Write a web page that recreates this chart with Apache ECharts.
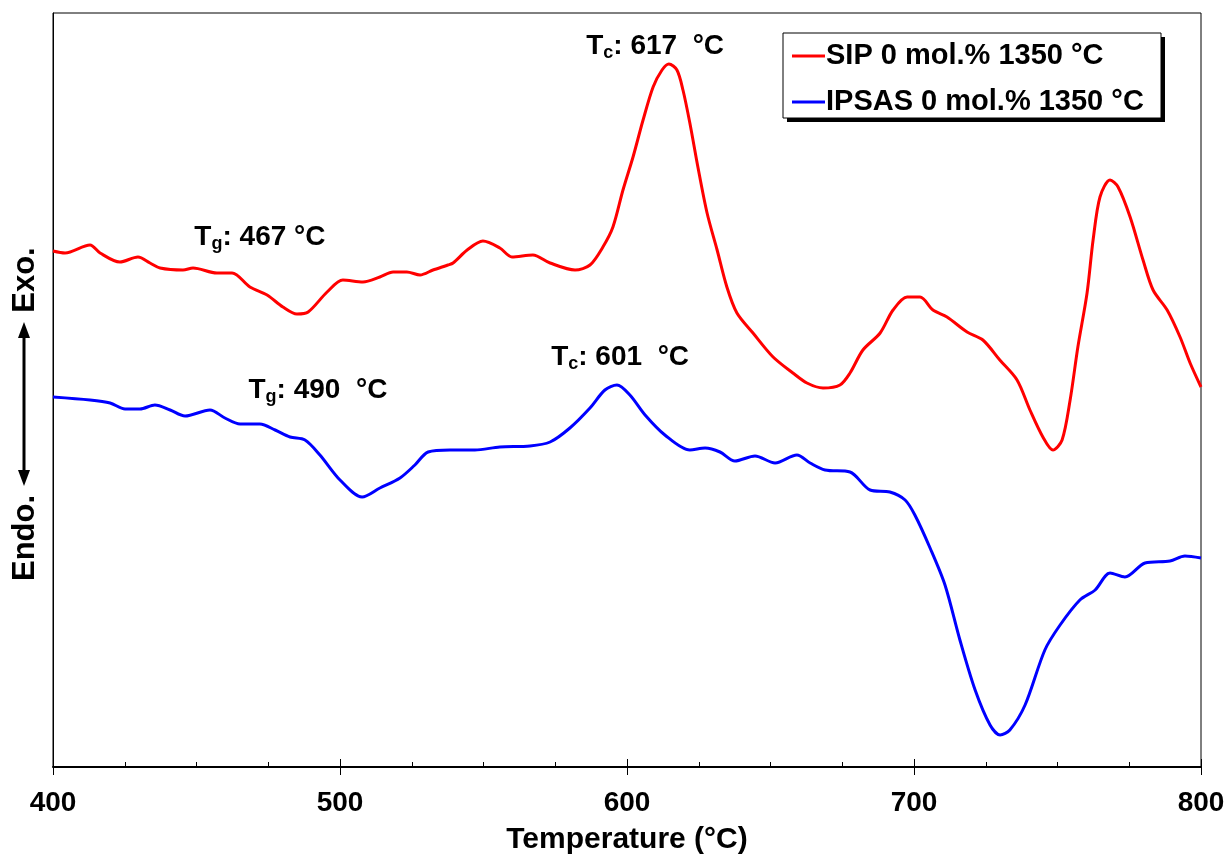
<!DOCTYPE html>
<html>
<head>
<meta charset="utf-8">
<script src="https://cdn.jsdelivr.net/npm/echarts@6/dist/echarts.min.js"></script>
<style>
  html, body { margin: 0; padding: 0; background: #fff; }
  #chart { width: 1226px; height: 854px; }
</style>
</head>
<body>
<div id="chart"></div>
<script>
// temperature (°C) and DSC signal (arbitrary units)
const sipTemp = [400, 404.2, 412.9, 416.4, 423.3, 429.6, 433.8, 437.3, 445.3, 448.8, 457.1, 462.4, 468.6, 474.6, 480.1, 485.0, 488.9, 495.5, 501.0, 508.0, 513.9, 518.5, 523.3, 527.9, 532.4, 537.6, 539.4, 544.3, 549.8, 555.7, 559.9, 567.2, 573.2, 581.9, 587.1, 591.6, 595.1, 598.6, 602.1, 605.6, 609.1, 612.2, 614.6, 617.4, 619.5, 621.9, 624.7, 627.9, 631.4, 634.8, 638.3, 643.9, 650.9, 657.8, 662.7, 668.3, 674.2, 677.7, 682.2, 688.2, 692.7, 697.6, 702.1, 706.6, 711.5, 718.5, 724.0, 729.9, 735.9, 740.4, 744.9, 748.4, 751.6, 754.4, 757.1, 760.3, 762.4, 764.8, 768.3, 771.1, 775.3, 779.8, 783.3, 788.2, 792.7, 796.2, 800];
const sipSignal = [51.6, 51.4, 52.2, 51.4, 50.5, 51.0, 50.4, 49.9, 49.7, 49.9, 49.4, 49.4, 48.0, 47.2, 46.0, 45.3, 45.5, 47.5, 48.7, 48.5, 49.0, 49.5, 49.5, 49.2, 49.7, 50.2, 50.4, 51.7, 52.6, 51.9, 51.0, 51.2, 50.4, 49.7, 50.2, 52.0, 54.0, 57.7, 61.0, 64.7, 68.0, 69.7, 70.3, 69.7, 67.7, 64.4, 60.0, 55.4, 51.7, 48.0, 45.4, 43.4, 41.0, 39.4, 38.4, 37.9, 38.2, 39.4, 41.7, 43.4, 45.7, 47.0, 47.0, 45.7, 45.0, 43.5, 42.7, 40.7, 38.7, 35.7, 33.0, 31.7, 32.7, 36.7, 42.0, 47.4, 52.7, 57.0, 58.7, 58.0, 55.0, 50.7, 47.7, 45.7, 43.0, 40.4, 38.0];

const ipsasTemp = [400, 412.9, 419.9, 425.1, 430.3, 435.5, 440.8, 446.0, 454.7, 459.9, 465.2, 472.1, 477.4, 482.6, 487.8, 493.0, 500.0, 507.7, 513.9, 520.9, 526.1, 530.7, 538.3, 547.0, 555.7, 566.2, 573.2, 580.1, 587.1, 592.3, 596.5, 601.0, 606.3, 613.2, 621.9, 627.2, 632.4, 637.6, 644.6, 651.6, 659.2, 663.8, 669.0, 677.7, 684.7, 691.6, 696.9, 700.3, 705.6, 710.8, 716.0, 721.3, 726.5, 730.0, 733.4, 738.7, 745.6, 750.9, 757.8, 763.1, 768.3, 773.5, 780.5, 789.2, 794.4, 800];
const ipsasSignal = [37.0, 36.7, 36.4, 35.8, 35.8, 36.2, 35.7, 35.1, 35.7, 34.9, 34.3, 34.3, 33.7, 33.0, 32.7, 31.2, 28.7, 27.0, 27.9, 28.9, 30.2, 31.5, 31.7, 31.7, 32.0, 32.1, 32.5, 33.9, 35.9, 37.7, 38.2, 37.2, 35.2, 33.2, 31.7, 31.9, 31.5, 30.6, 31.1, 30.4, 31.2, 30.4, 29.7, 29.5, 27.7, 27.5, 26.7, 25.2, 21.9, 18.2, 12.7, 7.7, 4.2, 3.2, 3.7, 6.2, 11.7, 14.2, 16.7, 17.7, 19.4, 19.0, 20.4, 20.6, 21.1, 20.9];

const seriesNames = ["SIP 0 mol.% 1350 °C", "IPSAS 0 mol.% 1350 °C"];
const xTicks = [400, 500, 600, 700, 800];

// annotation texts: [prefix, subscript, rest, temperature, signal]
const sipNotes = [
  ["T", "c", ": 617  °C", 609.8, 72.1],
  ["T", "g", ": 467 °C", 472.1, 53.0],
];
const ipsasNotes = [
  ["T", "c", ": 601  °C", 597.6, 41.0],
  ["T", "g", ": 490  °C", 492.3, 37.7],
];

const zip = (xs, ys) => xs.map((x, i) => [x, ys[i]]);

const FONT = "Liberation Sans, Arial";
const noteRich = {
  t: { fontSize: 28, fontWeight: "bold", color: "#000", fontFamily: FONT },
  s: { fontSize: 18, fontWeight: "bold", color: "#000", fontFamily: FONT, padding: [15, 0, 0, 0] },
};
function notes(list) {
  return {
    silent: true,
    symbol: "rect",
    symbolSize: 1,
    itemStyle: { color: "rgba(0,0,0,0)" },
    label: {
      show: true,
      position: "inside",
      rich: noteRich,
    },
    data: list.map((n) => ({
      coord: [n[3], n[4]],
      label: { formatter: "{t|" + n[0] + "}{s|" + n[1] + "}{t|" + n[2] + "}" },
    })),
  };
}

const chart = echarts.init(document.getElementById("chart"));
const option = {
  animation: false,
  backgroundColor: "#fff",
  textStyle: { fontFamily: FONT },
  grid: {
    left: 53,
    right: 25,
    top: 13,
    bottom: 87,
    outerBoundsMode: "none",
    show: true,
    borderColor: "#000",
    borderWidth: 1,
  },
  legend: {
    orient: "vertical",
    left: 792,
    top: 41,
    itemWidth: 33,
    itemHeight: 3,
    itemGap: 16,
    icon: "rect",
    padding: 0,
    z: 10,
    textStyle: { fontSize: 29, lineHeight: 30, fontWeight: "bold", color: "#000", padding: [0, 0, 0, -4] },
    data: seriesNames,
  },
  xAxis: [
    {
      type: "value",
      min: 400,
      max: 800,
      interval: 100,
      name: "Temperature (°C)",
      nameLocation: "middle",
      nameGap: 58,
      nameTextStyle: { fontSize: 30, fontWeight: "bold", color: "#000" },
      axisLine: { show: true, lineStyle: { color: "#000", width: 2 } },
      axisTick: { show: true, inside: true, length: 8, lineStyle: { color: "#000", width: 1 } },
      minorTick: { show: true, splitNumber: 4, length: 5, lineStyle: { color: "#000", width: 1 } },
      axisLabel: {
        margin: 22,
        fontSize: 28,
        fontWeight: "bold",
        color: "#000",
        customValues: xTicks,
      },
      splitLine: { show: false },
    },
    {
      // outer half of the major ticks
      type: "value",
      position: "bottom",
      min: 400,
      max: 800,
      interval: 100,
      axisLine: { show: false },
      axisTick: { show: true, inside: false, length: 8, lineStyle: { color: "#000", width: 1 } },
      axisLabel: { show: false },
      splitLine: { show: false },
    },
  ],
  yAxis: {
    type: "value",
    min: 0,
    max: 75.4,
    axisLine: { show: true, lineStyle: { color: "#000", width: 1 } },
    axisTick: { show: false },
    axisLabel: { show: false },
    splitLine: { show: false },
  },
  graphic: [
    {
      // legend frame drop shadow
      type: "rect",
      z: 5,
      shape: { x: 787, y: 37, width: 378, height: 85 },
      style: { fill: "#000" },
    },
    {
      // legend frame
      type: "rect",
      z: 6,
      shape: { x: 783, y: 33, width: 378, height: 85 },
      style: { fill: "#fff", stroke: "#000", lineWidth: 1 },
    },
    {
      type: "text",
      x: 25,
      y: 280,
      rotation: Math.PI / 2,
      style: { text: "Exo.", fontSize: 31, fontWeight: "bold", fill: "#000", align: "center", verticalAlign: "middle", fontFamily: FONT },
    },
    {
      type: "text",
      x: 25,
      y: 538,
      rotation: Math.PI / 2,
      style: { text: "Endo.", fontSize: 31, fontWeight: "bold", fill: "#000", align: "center", verticalAlign: "middle", fontFamily: FONT },
    },
    {
      type: "line",
      shape: { x1: 24, y1: 334, x2: 24, y2: 474 },
      style: { stroke: "#000", lineWidth: 3 },
    },
    {
      type: "polygon",
      shape: { points: [[24, 322], [18, 338], [30, 338]] },
      style: { fill: "#000" },
    },
    {
      type: "polygon",
      shape: { points: [[24, 486], [18, 470], [30, 470]] },
      style: { fill: "#000" },
    },
  ],
  series: [
    {
      name: seriesNames[0],
      type: "line",
      data: zip(sipTemp, sipSignal),
      smooth: 0.3,
      showSymbol: false,
      color: "#ff0000",
      lineStyle: { color: "#ff0000", width: 3 },
      markPoint: notes(sipNotes),
    },
    {
      name: seriesNames[1],
      type: "line",
      data: zip(ipsasTemp, ipsasSignal),
      smooth: 0.3,
      showSymbol: false,
      color: "#0000ff",
      lineStyle: { color: "#0000ff", width: 3 },
      markPoint: notes(ipsasNotes),
    },
  ],
};
chart.setOption(option);
</script>
</body>
</html>
